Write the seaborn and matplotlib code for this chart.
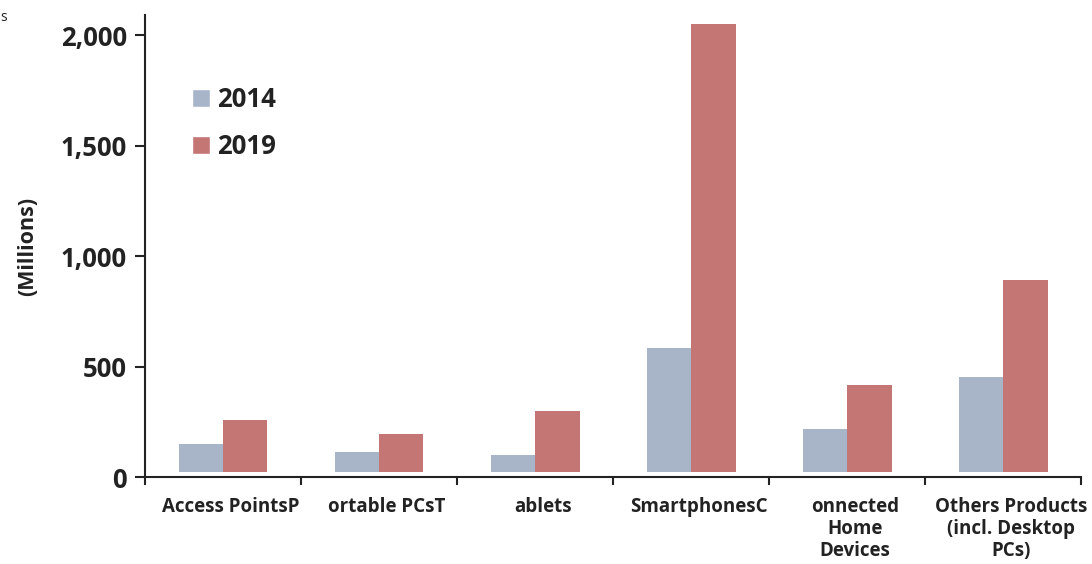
import matplotlib
matplotlib.use("Agg")
import matplotlib.pyplot as plt
import seaborn as sns
import pandas as pd

sns.set_style("white")
plt.rcParams['font.family'] = ['Open Sans', 'DejaVu Sans']
plt.rcParams['font.weight'] = 'bold'

categories = ["Access PointsP", "ortable PCsT", "ablets", "SmartphonesC",
              "onnected\nHome\nDevices", "Others Products\n(incl. Desktop\nPCs)"]
units_2014 = [149, 113, 100, 584, 217, 452]
units_2019 = [258, 195, 299, 2050, 416, 891]
years = ["2014", "2019"]
colors = ["#A8B5C9", "#C47674"]
bar_base = 22  # bars float a little above the axis in the original

df = pd.DataFrame({
    "category": categories * 2,
    "year": [years[0]] * len(categories) + [years[1]] * len(categories),
    "value": units_2014 + units_2019,
})

fig = plt.figure(figsize=(10.92, 5.64), dpi=100)
ax = fig.add_axes([0.1328, 0.154, 0.8572, 0.819])

sns.barplot(data=df, x="category", y="value", hue="year", palette=colors,
            width=0.57, gap=0, saturation=1, ax=ax, errorbar=None)

for p in ax.patches:
    h = p.get_height()
    if h > 0:
        p.set_y(bar_base)
        p.set_height(h - bar_base)
        p.set_linewidth(0)

ax.set_xlim(-0.5, 5.5)
ax.set_ylim(0, 2090)
ax.set_yticks([0, 500, 1000, 1500, 2000])
ax.set_yticklabels(["0", "500", "1,000", "1,500", "2,000"], fontsize=18.5,
                   fontweight='bold', color="#222222")

# category labels sit slightly right of centre, ticks at the boundaries
ax.set_xticks([i + 0.05 for i in range(len(categories))])
ax.set_xticklabels(categories, fontsize=13.5, fontweight='bold', color="#222222",
                   linespacing=1.15)
ax.tick_params(axis='x', length=0, pad=14)
ax.set_xticks([i - 0.5 for i in range(len(categories) + 1)], minor=True)
ax.tick_params(axis='x', which='minor', length=6, width=1.5, color="#222222",
               direction='out', bottom=True)
ax.tick_params(axis='y', length=7, width=1.5, color="#222222", direction='out',
               left=True, pad=6)

ax.set_xlabel("")
ax.set_ylabel("(Millions)", fontsize=15.5, fontweight='bold', color="#222222",
              labelpad=16)

for s in ["top", "right"]:
    ax.spines[s].set_visible(False)
for s in ["left", "bottom"]:
    ax.spines[s].set_color("#222222")
    ax.spines[s].set_linewidth(1.5)

leg = ax.legend(loc="upper left", bbox_to_anchor=(0.025, 0.897), frameon=False,
                fontsize=18.5, handlelength=0.7, handleheight=0.7,
                handletextpad=0.3, labelspacing=0.8)
for t in leg.get_texts():
    t.set_fontweight('bold')
    t.set_color("#222222")

fig.text(0.0, 0.963, "s", fontsize=10, fontweight='normal', color="#222222")

fig.savefig("out.png", dpi=100)
